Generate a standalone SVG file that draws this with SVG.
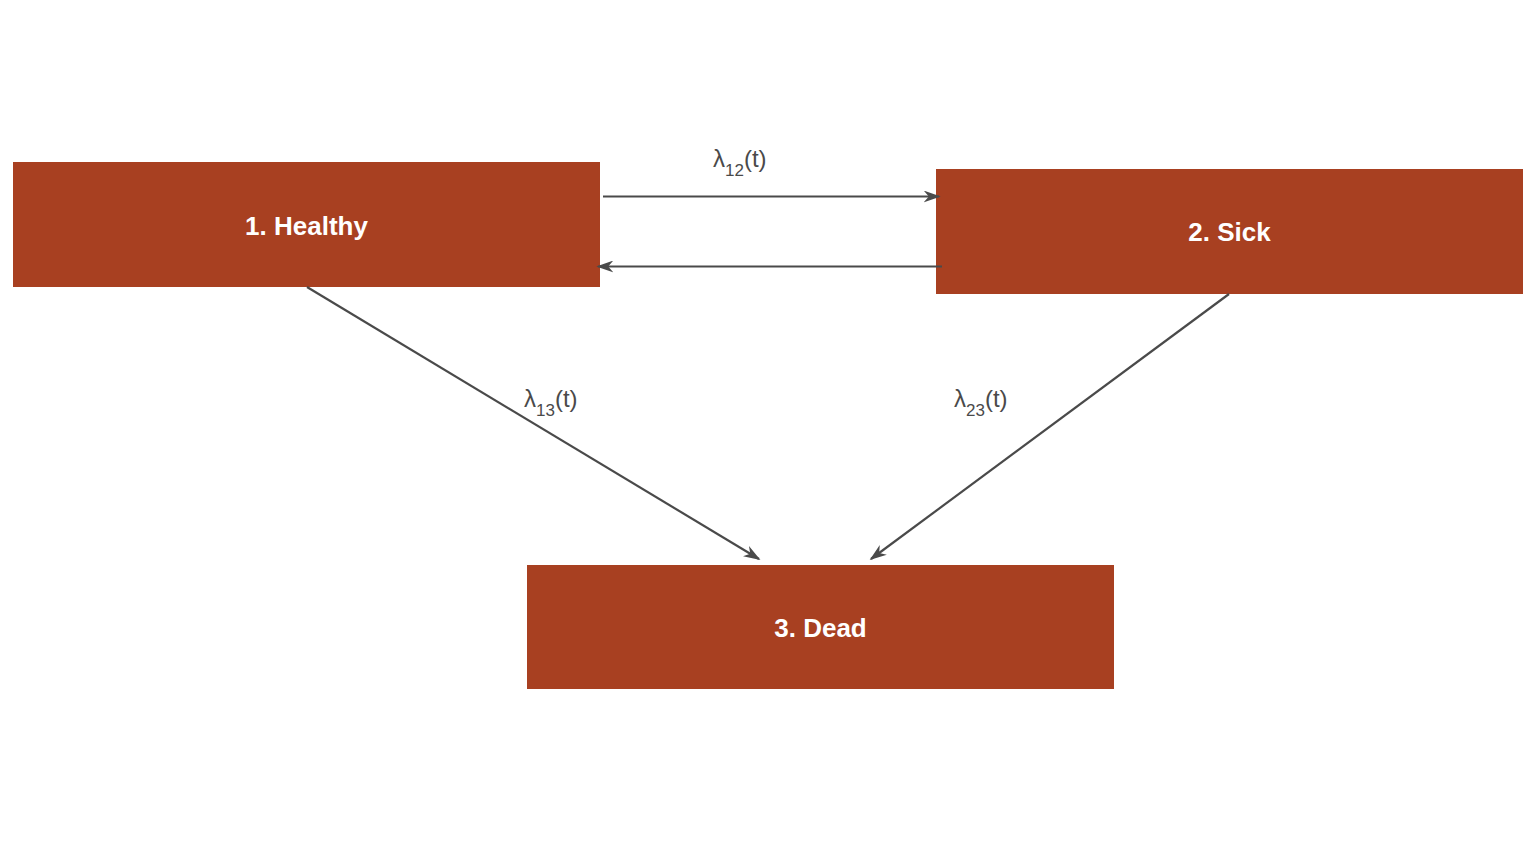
<svg xmlns="http://www.w3.org/2000/svg" width="1536" height="864" viewBox="0 0 1536 864">
  <style>
    .box { fill: #a84021; }
    .name { font-family: "Liberation Sans", Arial, sans-serif; font-weight: bold; font-size: 26px; fill: #ffffff; text-anchor: middle; }
    .edge { stroke: #4a4a4a; stroke-width: 2.2; fill: none; marker-end: url(#head); }
    .rate { font-family: "Liberation Sans", Arial, sans-serif; font-size: 24px; fill: #4a4a4a; }
    .sub { font-size: 17px; }
  </style>
  <defs>
    <marker id="head" viewBox="0 0 20 14" refX="18" refY="7" markerWidth="17" markerHeight="12" markerUnits="userSpaceOnUse" orient="auto">
      <path d="M0,0 L20,7 L0,14 L6,7 Z" fill="#4a4a4a"/>
    </marker>
  </defs>
  <rect width="1536" height="864" fill="#ffffff"/>

  <g id="node-healthy">
    <rect class="box" x="13" y="162" width="587" height="125"/>
    <text class="name" x="306.5" y="235">1. Healthy</text>
  </g>
  <g id="node-sick">
    <rect class="box" x="936" y="169" width="587" height="125"/>
    <text class="name" x="1229.5" y="241">2. Sick</text>
  </g>
  <g id="node-dead">
    <rect class="box" x="527" y="565" width="587" height="124"/>
    <text class="name" x="820.5" y="637">3. Dead</text>
  </g>

  <g id="connectors">
    <line class="edge" x1="603" y1="196.5" x2="939" y2="196.5"/>
    <line class="edge" x1="942" y1="266.5" x2="598" y2="266.5"/>
    <line class="edge" x1="307" y1="287" x2="759" y2="559"/>
    <line class="edge" x1="1229" y1="294" x2="871" y2="559"/>
  </g>

  <g id="labels">
    <text class="rate" x="713" y="167">λ<tspan class="sub" dy="9">12</tspan><tspan dy="-9">(t)</tspan></text>
    <text class="rate" x="524" y="407">λ<tspan class="sub" dy="9">13</tspan><tspan dy="-9">(t)</tspan></text>
    <text class="rate" x="954" y="407">λ<tspan class="sub" dy="9">23</tspan><tspan dy="-9">(t)</tspan></text>
  </g>
</svg>
